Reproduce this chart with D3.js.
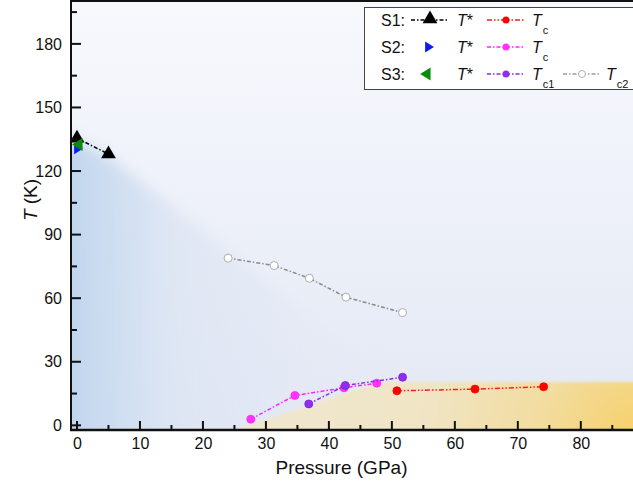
<!DOCTYPE html>
<html>
<head>
<meta charset="utf-8">
<script src="https://cdn.jsdelivr.net/npm/d3@7"></script>
<style>
  body { margin: 0; background: #fff; }
  svg { display: block; font-family: "Liberation Sans", Arial, sans-serif; }
</style>
</head>
<body>
<div id="chart"></div>
<script>
// data
const s1TStarP = [0, 5]
const s1TStarT = [135.5, 128]
const s2TStarP = [0]
const s2TStarT = [130.5]
const s3TStarP = [0]
const s3TStarT = [132.5]

const s1TcP = [50.8, 63.2, 74.1]
const s1TcT = [16.3, 17.1, 18.2]
const s2TcP = [27.6, 34.6, 42.4, 47.6]
const s2TcT = [2.9, 14.1, 17.7, 19.9]
const s3Tc1P = [36.8, 42.6, 51.7]
const s3Tc1T = [10.1, 18.8, 22.7]
const s3Tc2P = [24.0, 31.3, 36.9, 42.7, 51.7]
const s3Tc2T = [78.9, 75.4, 69.4, 60.5, 53.2]

// shaded phase regions (pressure, temperature)
const lowPhaseP = [-3, 0, 5, 50, 25, -3]
const lowPhaseT = [138, 134, 127, 21, -12, -12]
const scPhaseP = [25, 48, 95, 95]
const scPhaseT = [-2.2, 20.5, 20.5, -12]

const xTicks = [0, 10, 20, 30, 40, 50, 60, 70, 80]
const yTicks = [0, 30, 60, 90, 120, 150, 180]

const svgWidth = 633
const svgHeight = 486

let svg = d3.select("#chart").append("svg")
	.attr("width", svgWidth)
	.attr("height", svgHeight)

let x = d3.scaleLinear().domain([-0.95, 89.4]).range([71, 640])
let y = d3.scaleLinear().domain([-2.2, 200]).range([430, 1.5])

let zip = (ps, ts) => ps.map((p, i) => [p, ts[i]])
let line = d3.line().x(d => x(d[0])).y(d => y(d[1]))

let defs = svg.append("defs")
let bg = defs.append("linearGradient").attr("id", "bg").attr("x1", 0).attr("y1", 0).attr("x2", 0).attr("y2", 1)
bg.append("stop").attr("offset", "0%").attr("stop-color", "#f7f9fd")
bg.append("stop").attr("offset", "100%").attr("stop-color", "#e3e8f4")

let blue = defs.append("linearGradient").attr("id", "blue")
	.attr("gradientUnits", "userSpaceOnUse")
	.attr("x1", 71).attr("y1", 0).attr("x2", 330).attr("y2", 0)
blue.append("stop").attr("offset", "0%").attr("stop-color", "#c0d6ee").attr("stop-opacity", 1)
blue.append("stop").attr("offset", "40%").attr("stop-color", "#dce5f3").attr("stop-opacity", 0.8)
blue.append("stop").attr("offset", "100%").attr("stop-color", "#e3e8f4").attr("stop-opacity", 0.35)

let yellow = defs.append("radialGradient").attr("id", "yellow")
	.attr("gradientUnits", "userSpaceOnUse")
	.attr("cx", 640).attr("cy", 440).attr("r", 330)
yellow.append("stop").attr("offset", "0%").attr("stop-color", "#f6d066")
yellow.append("stop").attr("offset", "30%").attr("stop-color", "#f2dc9e")
yellow.append("stop").attr("offset", "65%").attr("stop-color", "#f0e4c4")
yellow.append("stop").attr("offset", "100%").attr("stop-color", "#efe6cc")

defs.append("filter").attr("id", "softBlue")
	.attr("x", "-20%").attr("y", "-20%").attr("width", "140%").attr("height", "140%")
	.append("feGaussianBlur").attr("stdDeviation", 7)
defs.append("filter").attr("id", "softYellow")
	.attr("x", "-10%").attr("y", "-10%").attr("width", "120%").attr("height", "120%")
	.append("feGaussianBlur").attr("stdDeviation", 1.5)

defs.append("clipPath").attr("id", "plotClip")
	.append("rect").attr("x", 71).attr("y", 1.5).attr("width", 640 - 71).attr("height", 430 - 1.5)

let plot = svg.append("g")
let shade = plot.append("g").attr("clip-path", "url(#plotClip)")

// background and phase regions
shade.append("rect")
	.attr("x", 71).attr("y", 1.5)
	.attr("width", 640 - 71).attr("height", 430 - 1.5)
	.attr("fill", "url(#bg)")

shade.append("path")
	.attr("d", line(zip(lowPhaseP, lowPhaseT)) + "Z")
	.attr("fill", "url(#blue)")
	.attr("filter", "url(#softBlue)")

shade.append("path")
	.attr("d", line(zip(scPhaseP, scPhaseT)) + "Z")
	.attr("fill", "url(#yellow)")
	.attr("filter", "url(#softYellow)")

// axes
let bottomAxis = d3.axisBottom(x).tickValues(xTicks).tickSize(0).tickPadding(8)
let xAxis = svg.append("g").attr("transform", "translate(0,430)").call(bottomAxis)
xAxis.select(".domain").remove()
xAxis.selectAll("text").attr("font-size", 16).attr("fill", "#111")

let leftAxis = d3.axisLeft(y).tickValues(yTicks).tickSize(0).tickPadding(9)
let yAxis = svg.append("g").attr("transform", "translate(71,0)").call(leftAxis)
yAxis.select(".domain").remove()
yAxis.selectAll("text").attr("font-size", 16).attr("fill", "#111")

// inward ticks
let tickG = svg.append("g").attr("stroke", "#111").attr("stroke-width", 2)
d3.range(0, 90, 5).forEach(v => {
	let major = v % 10 === 0
	tickG.append("line")
		.attr("x1", x(v)).attr("x2", x(v))
		.attr("y1", 430).attr("y2", 430 - (major ? 9 : 5))
})
d3.range(0, 200, 15).forEach(v => {
	let major = v % 30 === 0
	tickG.append("line")
		.attr("y1", y(v)).attr("y2", y(v))
		.attr("x1", 71).attr("x2", 71 + (major ? 10 : 6))
})

// frame
svg.append("line").attr("x1", 71).attr("x2", 71).attr("y1", 0).attr("y2", 431)
	.attr("stroke", "#111").attr("stroke-width", 2)
svg.append("line").attr("x1", 70).attr("x2", 640).attr("y1", 430).attr("y2", 430)
	.attr("stroke", "#111").attr("stroke-width", 2.5)
svg.append("line").attr("x1", 70).attr("x2", 640).attr("y1", 1).attr("y2", 1)
	.attr("stroke", "#111").attr("stroke-width", 2)

// axis titles
svg.append("text")
	.attr("x", x(42)).attr("y", 474)
	.attr("text-anchor", "middle").attr("font-size", 19).attr("fill", "#111")
	.text("Pressure (GPa)")

let yTitle = svg.append("text")
	.attr("transform", "translate(37,200) rotate(-90)")
	.attr("text-anchor", "middle").attr("font-size", 19).attr("fill", "#111")
yTitle.append("tspan").attr("font-style", "italic").text("T")
yTitle.append("tspan").text(" (K)")

// series
function drawSeries(ps, ts, color, dash, width) {
	plot.append("path")
		.attr("d", line(zip(ps, ts)))
		.attr("fill", "none")
		.attr("stroke", color)
		.attr("stroke-width", width)
		.attr("stroke-dasharray", dash)
}

function drawDots(ps, ts, fill, stroke, r) {
	plot.selectAll(null).data(zip(ps, ts)).enter().append("circle")
		.attr("cx", d => x(d[0])).attr("cy", d => y(d[1]))
		.attr("r", r)
		.attr("fill", fill)
		.attr("stroke", stroke)
		.attr("stroke-width", 0.8)
}

let triUp = d3.symbol().type(d3.symbolTriangle).size(95)
function triPath(dir, s) {
	// right or left pointing triangle
	let h = s
	if (dir === "right") return `M${-h * 0.7},${-h} L${h * 0.9},0 L${-h * 0.7},${h} Z`
	return `M${h * 0.7},${-h} L${-h * 0.9},0 L${h * 0.7},${h} Z`
}

drawSeries(s3Tc2P, s3Tc2T, "#8a8a8a", "4,2,1.5,2", 1.5)
drawDots(s3Tc2P, s3Tc2T, "#ffffff", "#9a9a9a", 4)

drawSeries(s1TcP, s1TcT, "#ff1a1a", "5,2,1.5,2,1.5,2", 1.5)
drawDots(s1TcP, s1TcT, "#ff0000", "#ff0000", 4)

drawSeries(s2TcP, s2TcT, "#ff22ff", "4,2,1.5,2", 1.5)
drawDots(s2TcP, s2TcT, "#ff33ff", "#ff22ff", 4)

drawSeries(s3Tc1P, s3Tc1T, "#8a2be2", "4,2,1.5,2", 1.5)
drawDots(s3Tc1P, s3Tc1T, "#8f2ef0", "#7a20d8", 4)

drawSeries(s1TStarP, s1TStarT, "#000000", "4,2,1.5,2", 1.5)

plot.selectAll(null).data(zip(s2TStarP, s2TStarT)).enter().append("path")
	.attr("transform", d => `translate(${x(d[0]) + 1},${y(d[1])})`)
	.attr("d", triPath("right", 5.5))
	.attr("fill", "#0a1cf5")

plot.selectAll(null).data(zip(s1TStarP, s1TStarT)).enter().append("path")
	.attr("transform", d => `translate(${x(d[0])},${y(d[1])})`)
	.attr("d", triUp)
	.attr("fill", "#000")

plot.selectAll(null).data(zip(s3TStarP, s3TStarT)).enter().append("path")
	.attr("transform", d => `translate(${x(d[0]) + 1},${y(d[1])})`)
	.attr("d", triPath("left", 6.5))
	.attr("fill", "#0a8a0a")

// legend
let legend = svg.append("g")
legend.append("rect")
	.attr("x", 364.5).attr("y", 7.5)
	.attr("width", 300).attr("height", 82)
	.attr("fill", "#fff").attr("stroke", "#444").attr("stroke-width", 1)

let rowsY = [20, 47, 74]
let rowLabels = ["S1:", "S2:", "S3:"]
rowLabels.forEach((lab, i) => {
	legend.append("text").attr("x", 381).attr("y", rowsY[i] + 6)
		.attr("font-size", 16).attr("fill", "#111").text(lab)
	let t = legend.append("text").attr("x", 457).attr("y", rowsY[i] + 6)
		.attr("font-size", 16).attr("fill", "#111")
	t.append("tspan").attr("font-style", "italic").text("T")
	t.append("tspan").text("*")
})

function legendLine(x0, yy, color, dash) {
	legend.append("line")
		.attr("x1", x0).attr("x2", x0 + 38)
		.attr("y1", yy).attr("y2", yy)
		.attr("stroke", color).attr("stroke-width", 1.5)
		.attr("stroke-dasharray", dash)
}

function legendTc(x0, yy, sub) {
	let t = legend.append("text").attr("x", x0).attr("y", yy + 6)
		.attr("font-size", 16).attr("fill", "#111")
	t.append("tspan").attr("font-style", "italic").text("T")
	t.append("tspan").attr("font-size", 11).attr("dy", 8).attr("dx", 1).text(sub)
}

legendLine(411, rowsY[0], "#000", "4,2,1.5,2")
legend.append("path").attr("transform", `translate(430,${rowsY[0] - 1})`).attr("d", triUp).attr("fill", "#000")
legend.append("path").attr("transform", `translate(429,${rowsY[1]})`).attr("d", triPath("right", 5.5)).attr("fill", "#0a1cf5")
legend.append("path").attr("transform", `translate(426,${rowsY[2]})`).attr("d", triPath("left", 6.5)).attr("fill", "#0a8a0a")

legendLine(487, rowsY[0], "#ff1a1a", "5,2,1.5,2,1.5,2")
legend.append("circle").attr("cx", 506).attr("cy", rowsY[0]).attr("r", 3.5).attr("fill", "#ff0000")
legendTc(532, rowsY[0], "c")

legendLine(487, rowsY[1], "#ff22ff", "4,2,1.5,2")
legend.append("circle").attr("cx", 506).attr("cy", rowsY[1]).attr("r", 3.5).attr("fill", "#ff33ff")
legendTc(532, rowsY[1], "c")

legendLine(487, rowsY[2], "#8a2be2", "4,2,1.5,2")
legend.append("circle").attr("cx", 506).attr("cy", rowsY[2]).attr("r", 3.5).attr("fill", "#8f2ef0")
legendTc(532, rowsY[2], "c1")

legendLine(563, rowsY[2], "#9a9a9a", "4,2,1.5,2")
legend.append("circle").attr("cx", 582).attr("cy", rowsY[2]).attr("r", 3.5)
	.attr("fill", "#fff").attr("stroke", "#9a9a9a").attr("stroke-width", 0.8)
legendTc(606, rowsY[2], "c2")
</script>
</body>
</html>
